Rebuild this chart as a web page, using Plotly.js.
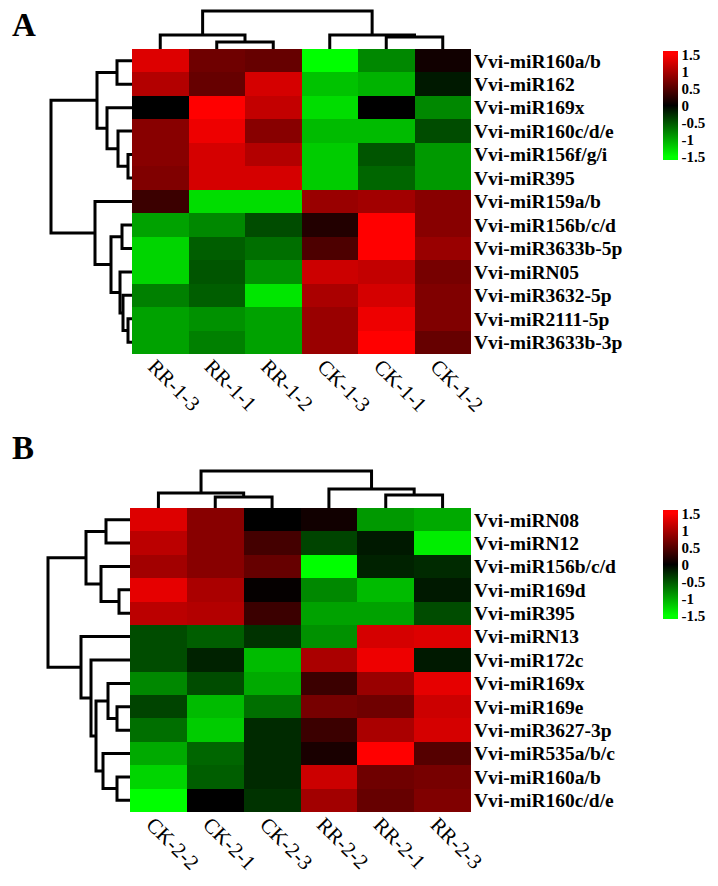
<!DOCTYPE html>
<html>
<head>
<meta charset="utf-8">
<script src="https://cdn.plot.ly/plotly-3.0.1.min.js"></script>
<style>html,body{margin:0;padding:0;background:#fff;}#chart{width:718px;height:886px;}</style>
</head>
<body>
<div id="chart"></div>
<script>
// ---------- Panel A data ----------
const colsA = ['RR-1-3', 'RR-1-1', 'RR-1-2', 'CK-1-3', 'CK-1-1', 'CK-1-2'];
const rowsA = ['Vvi-miR160a/b', 'Vvi-miR162', 'Vvi-miR169x', 'Vvi-miR160c/d/e', 'Vvi-miR156f/g/i',
  'Vvi-miR395', 'Vvi-miR159a/b', 'Vvi-miR156b/c/d', 'Vvi-miR3633b-5p', 'Vvi-miRN05',
  'Vvi-miR3632-5p', 'Vvi-miR2111-5p', 'Vvi-miR3633b-3p'];
const valuesA = [
  [1.30, 0.65, 0.60, -1.50, -0.80, 0.10],
  [1.05, 0.60, 1.25, -1.15, -1.05, -0.15],
  [0.00, 1.50, 1.15, -1.30, 0.00, -0.80],
  [0.80, 1.40, 0.80, -1.10, -1.10, -0.45],
  [0.80, 1.25, 1.05, -1.20, -0.50, -0.90],
  [0.75, 1.25, 1.25, -1.20, -0.60, -0.90],
  [0.35, -1.30, -1.30, 0.90, 0.95, 0.80],
  [-0.95, -0.80, -0.45, 0.20, 1.50, 0.80],
  [-1.25, -0.55, -0.65, 0.45, 1.50, 0.90],
  [-1.25, -0.50, -0.85, 1.20, 1.15, 0.70],
  [-0.75, -0.55, -1.35, 1.00, 1.25, 0.75],
  [-0.95, -0.85, -0.95, 0.90, 1.40, 0.75],
  [-0.95, -0.75, -0.95, 0.90, 1.50, 0.60]
];
// linkage: [childA, childB, height]; leaves 0..n-1, merges numbered n, n+1, ...
const rowLinkA = [[0,1,1.5],[4,5,0.4],[3,14,1.4],[2,15,2.5],[13,16,3.5],[11,12,0.4],[10,18,0.9],
  [9,19,1.2],[7,8,1.0],[21,20,2.1],[6,22,3.7],[17,23,8.1]];
const colLinkA = [[1,2,0.7],[0,6,1.4],[4,5,1.2],[3,8,1.4],[7,9,3.8]];

// ---------- Panel B data ----------
const colsB = ['CK-2-2', 'CK-2-1', 'CK-2-3', 'RR-2-2', 'RR-2-1', 'RR-2-3'];
const rowsB = ['Vvi-miRN08', 'Vvi-miRN12', 'Vvi-miR156b/c/d', 'Vvi-miR169d', 'Vvi-miR395',
  'Vvi-miRN13', 'Vvi-miR172c', 'Vvi-miR169x', 'Vvi-miR169e', 'Vvi-miR3627-3p',
  'Vvi-miR535a/b/c', 'Vvi-miR160a/b', 'Vvi-miR160c/d/e'];
const valuesB = [
  [1.30, 0.80, 0.00, 0.10, -0.90, -1.00],
  [1.10, 0.80, 0.40, -0.40, -0.15, -1.40],
  [0.95, 0.80, 0.60, -1.50, -0.20, -0.25],
  [1.35, 1.00, 0.03, -0.80, -1.10, -0.15],
  [1.10, 1.05, 0.35, -0.95, -0.95, -0.45],
  [-0.45, -0.55, -0.30, -0.85, 1.25, 1.30],
  [-0.45, -0.20, -1.10, 1.00, 1.40, -0.15],
  [-0.80, -0.45, -1.00, 0.35, 0.90, 1.35],
  [-0.40, -1.10, -0.65, 0.70, 0.65, 1.20],
  [-0.65, -1.20, -0.25, 0.35, 1.00, 1.25],
  [-1.00, -0.60, -0.25, 0.15, 1.50, 0.50],
  [-1.25, -0.55, -0.25, 1.20, 0.65, 0.70],
  [-1.50, 0.00, -0.30, 0.95, 0.60, 0.75]
];
const rowLinkB = [[0,1,2.4],[3,4,1.1],[2,14,2.9],[13,15,4.4],[8,9,1.3],[7,17,2.2],[11,12,1.3],
  [10,19,2.7],[18,20,3.4],[6,21,3.9],[5,22,4.9],[16,23,8.2]];
const colLinkB = [[1,2,1.1],[0,6,1.5],[4,5,1.3],[3,8,1.9],[7,9,3.7]];

const cbTicks = [-1.5, -1, -0.5, 0, 0.5, 1, 1.5];
const cbText = ['-1.5', '-1', '-0.5', '0', '0.5', '1', '1.5'];

// ---------- helpers ----------
const W = 718, H = 886;
const px = v => v / W;
const py = v => 1 - v / H;
const SERIF = 'Liberation Serif, Times New Roman, serif';

function dendro(link, n) {
  const pos = [], hgt = [];
  for (let i = 0; i < n; i++) { pos[i] = i; hgt[i] = 0; }
  const P = [], Hh = [];
  link.forEach((m, k) => {
    const [a, b, h] = m;
    pos[n + k] = (pos[a] + pos[b]) / 2; hgt[n + k] = h;
    P.push(pos[a], pos[a], pos[b], pos[b], null);
    Hh.push(hgt[a], h, h, hgt[b], null);
  });
  return {p: P, h: Hh};
}

const colorscale = [[0, '#00ff00'], [0.03125, '#00ff00'], [0.5, '#000000'], [0.96875, '#ff0000'], [1, '#ff0000']];

function heat(z, xa, ya, cbY) {
  return {
    type: 'heatmap', z: z, x: [0,1,2,3,4,5], y: z.map((r, i) => i),
    xaxis: xa, yaxis: ya, colorscale: colorscale, zmin: -1.6, zmax: 1.6,
    hoverinfo: 'skip', zsmooth: false,
    showscale: true,
    colorbar: {
      x: px(663), xanchor: 'left', xpad: 0, ypad: 0,
      y: cbY, yanchor: 'middle', len: 109 / H, lenmode: 'fraction',
      thickness: 15, thicknessmode: 'pixels', outlinewidth: 0,
      ticks: '', tickvals: cbTicks, ticktext: cbText,
      tickfont: {family: SERIF, size: 15, color: '#000', weight: 'bold'}
    }
  };
}

const dl = {color: '#000', width: 3};
const rA = dendro(rowLinkA, rowsA.length), cA = dendro(colLinkA, colsA.length);
const rB = dendro(rowLinkB, rowsB.length), cB = dendro(colLinkB, colsB.length);

const data = [
  heat(valuesA, 'x', 'y', py(105.5)),
  {type: 'scatter', mode: 'lines', x: rA.h, y: rA.p, xaxis: 'x2', yaxis: 'y', line: dl, hoverinfo: 'skip', connectgaps: false},
  {type: 'scatter', mode: 'lines', x: cA.p, y: cA.h, xaxis: 'x', yaxis: 'y2', line: dl, hoverinfo: 'skip', connectgaps: false},
  heat(valuesB, 'x3', 'y3', py(564.5)),
  {type: 'scatter', mode: 'lines', x: rB.h, y: rB.p, xaxis: 'x4', yaxis: 'y3', line: dl, hoverinfo: 'skip', connectgaps: false},
  {type: 'scatter', mode: 'lines', x: cB.p, y: cB.h, xaxis: 'x3', yaxis: 'y4', line: dl, hoverinfo: 'skip', connectgaps: false}
];

function catX(dom, labels, anchor) {
  return {domain: dom, range: [-0.5, 5.5], anchor: anchor, tickmode: 'array', tickvals: [0,1,2,3,4,5],
    ticktext: labels, tickangle: 45, ticks: '', showgrid: false, zeroline: false, showline: false,
    ticklabelstandoff: -5, ticklabelshift: -6,
    tickfont: {family: SERIF, size: 21, color: '#000'}, fixedrange: true};
}
function catY(dom, labels, anchor) {
  return {domain: dom, range: [labels.length - 0.5, -0.5], anchor: anchor, side: 'right', tickmode: 'array',
    tickvals: labels.map((l, i) => i), ticktext: labels, ticks: '', showgrid: false, zeroline: false,
    ticklabelstandoff: 2,
    showline: false, tickfont: {family: SERIF, size: 19.5, color: '#000', weight: 'bold'}, fixedrange: true};
}
const hid = (dom, range, anchor) => ({domain: dom, range: range, anchor: anchor, visible: false, fixedrange: true});

const layout = {
  width: W, height: H, margin: {l: 0, r: 0, t: 0, b: 0},
  paper_bgcolor: '#fff', plot_bgcolor: 'rgba(0,0,0,0)', showlegend: false,
  xaxis: catX([px(132), px(471)], colsA, 'y'),
  yaxis: catY([py(354), py(49)], rowsA, 'x'),
  xaxis2: hid([px(42), px(132)], [9, 0], 'y'),
  yaxis2: hid([py(49), py(7)], [0, 4.2], 'x'),
  xaxis3: catX([px(130), px(471)], colsB, 'y3'),
  yaxis3: catY([py(812), py(508)], rowsB, 'x3'),
  xaxis4: hid([px(40), px(130)], [9, 0], 'y3'),
  yaxis4: hid([py(508), py(466)], [0, 4.2], 'x3'),
  annotations: [
    {text: 'A', xref: 'paper', yref: 'paper', x: px(10), y: py(5), xanchor: 'left', yanchor: 'top',
     showarrow: false, font: {family: SERIF, size: 33, color: '#000', weight: 'bold'}},
    {text: 'B', xref: 'paper', yref: 'paper', x: px(10), y: py(428), xanchor: 'left', yanchor: 'top',
     showarrow: false, font: {family: SERIF, size: 33, color: '#000', weight: 'bold'}}
  ]
};

Plotly.newPlot('chart', data, layout, {staticPlot: true, displayModeBar: false});
</script>
</body>
</html>
